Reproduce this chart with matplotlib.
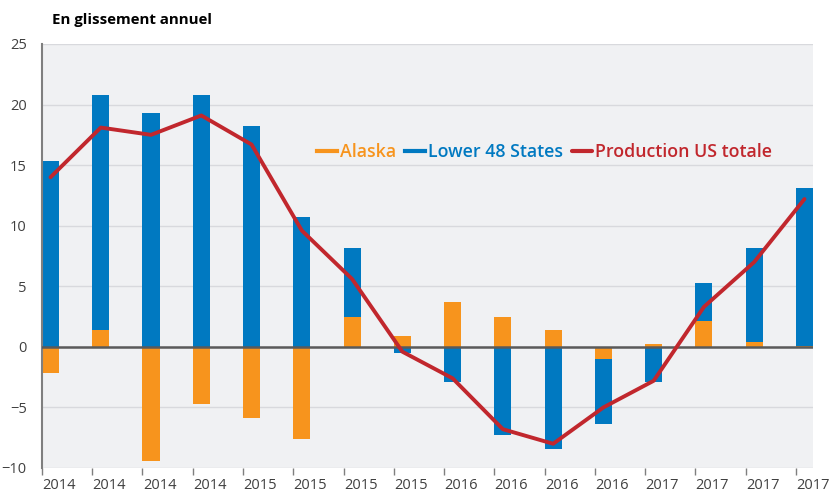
import numpy as np
import matplotlib
matplotlib.use('Agg')
import matplotlib.pyplot as plt
from matplotlib.lines import Line2D

plt.rcParams['font.family'] = ['Open Sans', 'DejaVu Sans']

# year-on-year change, quarterly
years = ['2014', '2014', '2014', '2014', '2015', '2015', '2015', '2015',
         '2016', '2016', '2016', '2016', '2017', '2017', '2017', '2017']
alaska = [-2.2, 1.4, -9.4, -4.7, -5.9, -7.6, 2.5, 0.9,
          3.7, 2.5, 1.4, -1.0, 0.2, 2.1, 0.4, 0.1]
lower48 = [15.3, 19.4, 19.3, 20.8, 18.2, 10.7, 5.7, -0.5,
           -2.9, -7.3, -8.4, -5.4, -2.9, 3.2, 7.8, 13.0]
total = [14.0, 18.1, 17.5, 19.1, 16.7, 9.6, 5.6, -0.4,
         -2.6, -6.8, -8.0, -5.0, -2.8, 3.3, 7.0, 12.2]

c_alaska = '#F7941D'
c_l48 = '#0079C1'
c_total = '#C1272D'

alaska = np.array(alaska)
lower48 = np.array(lower48)
# positive and negative parts stack separately
bottom48 = np.where(np.sign(alaska) == np.sign(lower48), alaska, 0)

fig = plt.figure(figsize=(8.36, 4.92), dpi=100)
ax = fig.add_axes([0.0502, 0.0488, 0.9725 - 0.0502, 0.9106 - 0.0488])
ax.set_facecolor('#F0F1F3')

x = np.arange(len(years))
w = 0.34
xc = x + w / 2
ax.bar(xc, alaska, w, color=c_alaska, zorder=2)
ax.bar(xc, lower48, w, bottom=bottom48, color=c_l48, zorder=2)
ax.axhline(0, color='#5A5A5A', lw=1.8, zorder=3)
ax.plot(xc, total, color=c_total, lw=2.8, zorder=4, solid_capstyle='round')

ax.set_xlim(0, 15.32)
ax.set_ylim(-10, 25)
ax.set_yticks(np.arange(-10, 26, 5))
ax.grid(axis='y', color='#D8D9DD', lw=1, zorder=1)
ax.set_axisbelow(True)

# tick marks at the quarter boundaries, labels sit just right of them
ax.set_xticks(x)
ax.set_xticklabels([])
ax.set_xticks(x + 0.34, minor=True)
ax.set_xticklabels(years, minor=True)

for s in ['top', 'right', 'bottom']:
    ax.spines[s].set_visible(False)
ax.spines['left'].set_color('#7F7F7F')
ax.spines['left'].set_linewidth(1.5)
ax.tick_params(axis='x', which='major', length=5, width=1, color='#7F7F7F')
ax.tick_params(axis='x', which='minor', length=0, labelsize=10.5,
               labelcolor='#404040', pad=7)
ax.tick_params(axis='y', length=0, labelsize=10.5, labelcolor='#404040', pad=11)

handles = [Line2D([], [], color=c_alaska, lw=3),
           Line2D([], [], color=c_l48, lw=3),
           Line2D([], [], color=c_total, lw=3, solid_capstyle='round')]
leg = ax.legend(handles, ['Alaska', 'Lower 48 States', 'Production US totale'],
                loc='center left', bbox_to_anchor=(0.336, 0.745), ncol=3,
                frameon=False, handlelength=1.12, handletextpad=0.17,
                columnspacing=0.5, prop={'size': 12.8, 'weight': 'semibold'},
                labelcolor=[c_alaska, c_l48, c_total])

fig.text(0.062, 0.96, 'En glissement annuel', fontsize=10.8, fontweight='bold',
         va='center', ha='left', color='black')

fig.savefig('out.png', dpi=100)
